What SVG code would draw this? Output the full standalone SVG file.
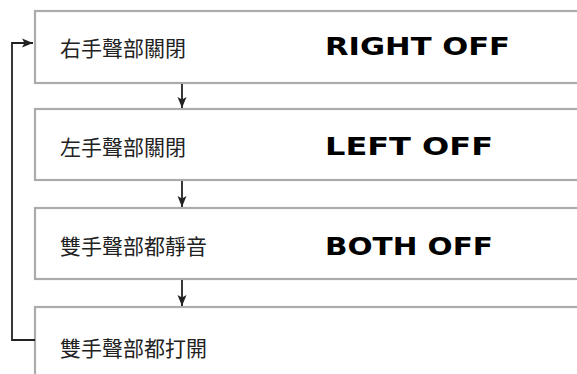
<svg xmlns="http://www.w3.org/2000/svg" width="577" height="374" viewBox="0 0 577 374">
<style>
.box{fill:#fff;stroke:#ababab;stroke-width:2.2}
.cjk{font-family:"Noto Sans CJK TC","Noto Sans CJK SC",sans-serif;font-size:21px;fill:#222}
.lcd{font-family:"DejaVu Sans",sans-serif;font-weight:bold;font-size:25px;fill:#000}
.line{fill:none;stroke:#222;stroke-width:1.8}
</style>
<defs>
<marker id="ah" markerWidth="12" markerHeight="10" refX="11" refY="5" orient="auto" markerUnits="userSpaceOnUse">
<path d="M0,0.5 L11,5 L0,9.5 L2.5,5 Z" fill="#222"/>
</marker>
</defs>
<rect width="577" height="374" fill="#fff"/>
<g id="node1">
<rect class="box" x="35" y="11" width="560" height="72"/>
<text class="cjk" x="60" y="56">右手聲部關閉</text>
<text class="lcd" x="325" y="55" textLength="185" lengthAdjust="spacingAndGlyphs">RIGHT OFF</text>
</g>
<g id="node2">
<rect class="box" x="35" y="109" width="560" height="71"/>
<text class="cjk" x="60" y="155">左手聲部關閉</text>
<text class="lcd" x="325" y="155" textLength="168" lengthAdjust="spacingAndGlyphs">LEFT OFF</text>
</g>
<g id="node3">
<rect class="box" x="35" y="208" width="560" height="71"/>
<text class="cjk" x="60" y="254">雙手聲部都靜音</text>
<text class="lcd" x="325" y="255" textLength="168" lengthAdjust="spacingAndGlyphs">BOTH OFF</text>
</g>
<g id="node4">
<rect class="box" x="35" y="307" width="560" height="100"/>
<text class="cjk" x="60" y="356">雙手聲部都打開</text>
</g>
<g id="connectors">
<line class="line" x1="182" y1="84" x2="182" y2="108" marker-end="url(#ah)"/>
<line class="line" x1="182" y1="181" x2="182" y2="207" marker-end="url(#ah)"/>
<line class="line" x1="182" y1="280" x2="182" y2="306" marker-end="url(#ah)"/>
<polyline class="line" points="35,340 12,340 12,43 33,43" marker-end="url(#ah)"/>
</g>
</svg>
